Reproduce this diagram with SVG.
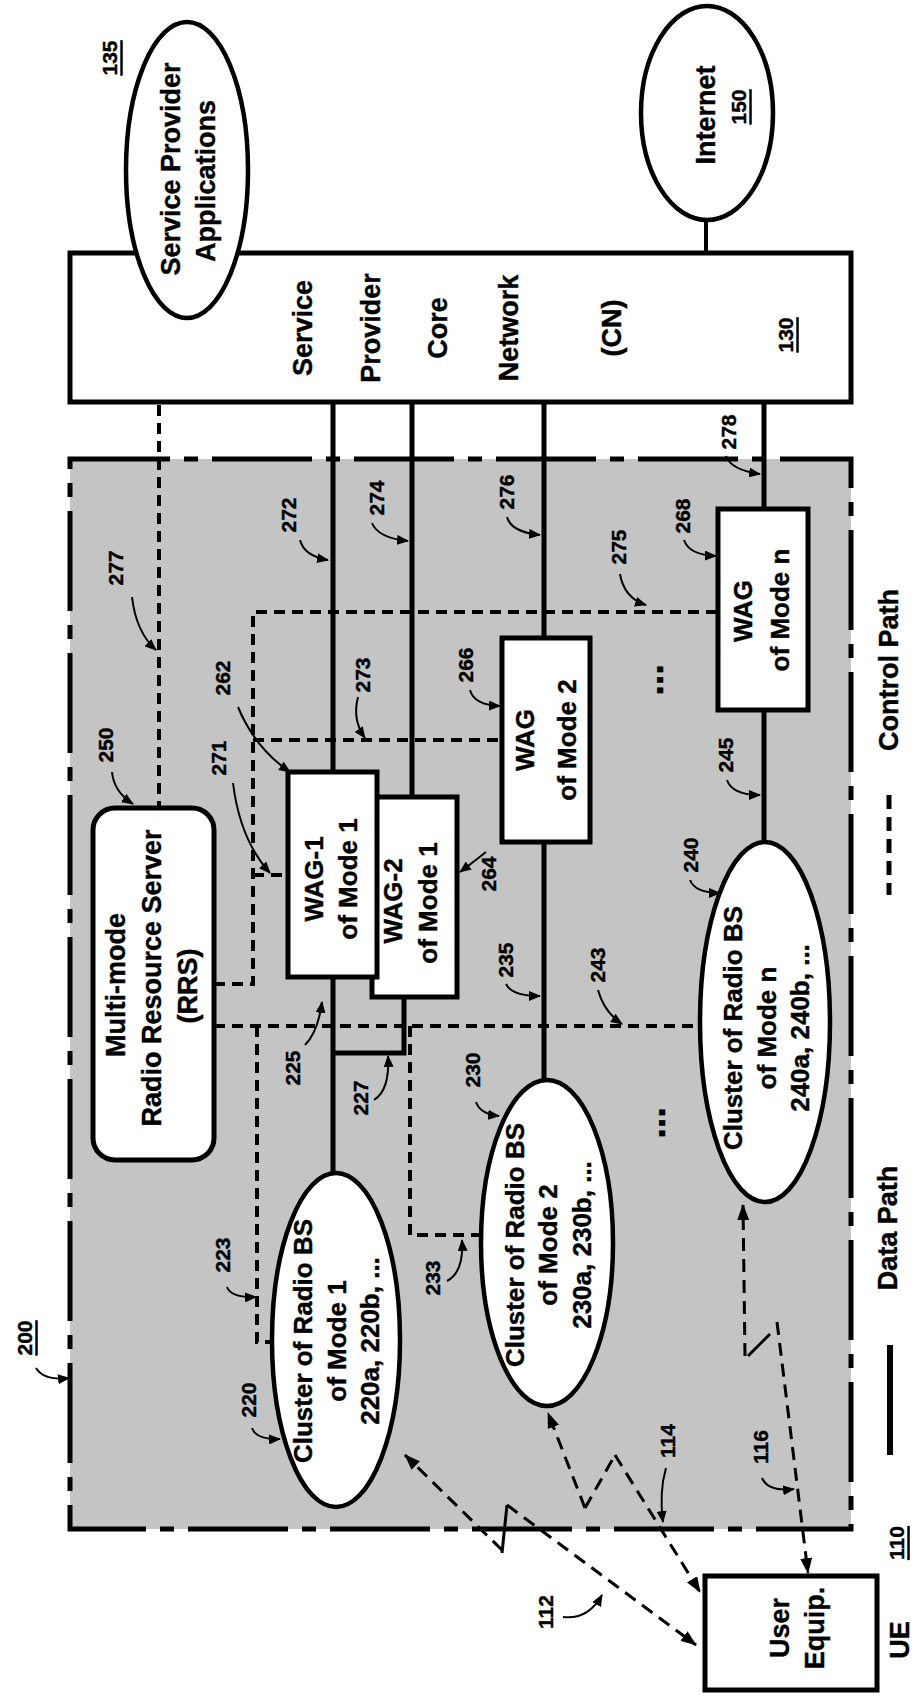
<svg xmlns="http://www.w3.org/2000/svg" width="922" height="1696" viewBox="0 0 922 1696">
<style>
.t{font-family:"Liberation Sans",Arial,Helvetica,sans-serif;font-weight:bold;font-size:27px;text-anchor:middle;dominant-baseline:central;fill:#000;stroke:#000;stroke-width:0.4}
.m{font-size:26px}
.n{font-size:21px}
.u{text-decoration:underline}
.box{fill:#fff;stroke:#000;stroke-width:5}
.ell{fill:#fff;stroke:#000;stroke-width:4.5}
.data{fill:none;stroke:#000;stroke-width:5}
.ctrl{fill:none;stroke:#000;stroke-width:4;stroke-dasharray:11 7}
.wl{fill:none;stroke:#000;stroke-width:3;stroke-dasharray:13 8}
.la{fill:none;stroke:#000;stroke-width:2;marker-end:url(#ah)}
</style>
<defs>
<marker id="ah" viewBox="0 0 12 10" refX="11" refY="5" markerWidth="12" markerHeight="10" markerUnits="userSpaceOnUse" orient="auto"><path d="M0,0 L12,5 L0,10 z" fill="#000"/></marker>
<marker id="wa" viewBox="0 0 16 12" refX="15" refY="6" markerWidth="16" markerHeight="12" markerUnits="userSpaceOnUse" orient="auto-start-reverse"><path d="M0,0 L16,6 L0,12 z" fill="#000"/></marker>
</defs>
<rect width="922" height="1696" fill="#fff"/>
<g id="region-200">
<rect x="70" y="459" width="781" height="1070" fill="#c4c4c4" stroke="#000" stroke-width="5" stroke-dasharray="100 14 14 14"/>
<text class="t n u" transform="translate(24,1338) rotate(-90)">200</text>
</g>
<g id="connectors">
<path class="data" d="M333,402 V772 M412,402 V797 M544,402 V638 M544,842 V1080 M764,402 V509 M764,710 V842 M333,977 V1173 M404,997 V1053 H333"/>
<path d="M706,220 V253" fill="none" stroke="#000" stroke-width="4"/>
<path class="ctrl" d="M159,405 V808"/>
<path class="ctrl" d="M214,984 H253 V612 H718 M253,740 H502 M253,875 H288"/>
<path class="ctrl" d="M214,1026 H701 M257,1026 V1342 H272 M410,1026 V1235 H481"/>
<polyline class="wl" points="502,1550 405,1455" marker-end="url(#wa)"/>
<polyline class="wl" points="507,1505 696,1645" marker-end="url(#wa)"/>
<path d="M502,1553 L507,1505" fill="none" stroke="#000" stroke-width="3"/>
<polyline class="wl" points="585,1508 548,1413" marker-end="url(#wa)"/>
<path d="M585,1508 L615,1455" fill="none" stroke="#000" stroke-width="3" stroke-dasharray="13 8"/>
<polyline class="wl" points="615,1455 700,1592" marker-end="url(#wa)"/>
<polyline class="wl" points="745,1356 743,1205" marker-end="url(#wa)"/>
<path d="M748,1356 L770,1334" fill="none" stroke="#000" stroke-width="3"/>
<polyline class="wl" points="777,1322 808,1573" marker-end="url(#wa)"/>
<path class="la" d="M132,597 Q136,632 156,650"/>
<path class="la" d="M112,772 Q114,792 133,804"/>
<path class="la" d="M238,707 Q255,748 290,772"/>
<path class="la" d="M233,783 Q240,840 270,873"/>
<path class="la" d="M300,540 Q304,556 328,560"/>
<path class="la" d="M372,523 Q378,538 408,541"/>
<path class="la" d="M507,517 Q511,532 540,535"/>
<path class="la" d="M726,456 Q731,470 760,474"/>
<path class="la" d="M684,540 Q689,555 716,556"/>
<path class="la" d="M620,574 Q624,598 646,605"/>
<path class="la" d="M470,690 Q474,705 500,706"/>
<path class="la" d="M358,697 Q352,720 365,738"/>
<path class="la" d="M727,780 Q732,795 760,795"/>
<path class="la" d="M690,880 Q695,893 720,893"/>
<path class="la" d="M486,852 Q476,860 460,872"/>
<path class="la" d="M305,1045 Q318,1032 322,1002"/>
<path class="la" d="M374,1100 Q390,1090 388,1056"/>
<path class="la" d="M506,984 Q512,996 540,996"/>
<path class="la" d="M598,990 Q604,1012 622,1024"/>
<path class="la" d="M476,1102 Q480,1114 499,1116"/>
<path class="la" d="M447,1281 Q464,1272 462,1240"/>
<path class="la" d="M227,1287 Q231,1298 256,1297"/>
<path class="la" d="M252,1428 Q256,1440 280,1439"/>
<path class="la" d="M36,1368 Q44,1381 69,1378"/>
<path class="la" d="M563,1617 Q588,1620 602,1595"/>
<path class="la" d="M666,1468 Q659,1492 663,1522"/>
<path class="la" d="M762,1478 Q768,1492 794,1489"/>
</g>
<g id="core-network">
<rect class="box" x="70" y="253" width="781" height="149"/>
<text class="t" transform="translate(303,328) rotate(-90)">Service</text>
<text class="t" transform="translate(371,328) rotate(-90)">Provider</text>
<text class="t" transform="translate(438,328) rotate(-90)">Core</text>
<text class="t" transform="translate(509,328) rotate(-90)">Network</text>
<text class="t" transform="translate(612,328) rotate(-90)">(CN)</text>
<text class="t n u" transform="translate(785,335) rotate(-90)">130</text>
</g>
<g id="service-provider-applications">
<ellipse class="ell" cx="187" cy="170" rx="61" ry="148"/>
<text class="t" transform="translate(171,169) rotate(-90)">Service Provider</text>
<text class="t" transform="translate(206,181) rotate(-90)">Applications</text>
<text class="t n u" transform="translate(109,58) rotate(-90)">135</text>
</g>
<g id="internet">
<ellipse class="ell" cx="707" cy="113" rx="66" ry="107"/>
<text class="t" transform="translate(706,115) rotate(-90)">Internet</text>
<text class="t n u" transform="translate(738,107) rotate(-90)">150</text>
</g>
<g id="rrs">
<rect class="box" x="93" y="808" width="121" height="352" rx="22"/>
<text class="t" transform="translate(116,985) rotate(-90)">Multi-mode</text>
<text class="t" transform="translate(152,978) rotate(-90)">Radio Resource Server</text>
<text class="t" transform="translate(188,986) rotate(-90)">(RRS)</text>
<text class="t n" transform="translate(105,745) rotate(-90)">250</text>
<text class="t n" transform="translate(115,568) rotate(-90)">277</text>
</g>
<g id="wag2-mode1">
<rect class="box" x="372" y="797" width="85" height="200"/>
<text class="t m" transform="translate(393,901) rotate(-90)">WAG-2</text>
<text class="t m" transform="translate(428,903) rotate(-90)">of Mode 1</text>
<text class="t n" transform="translate(488,874) rotate(-90)">264</text>
</g>
<g id="wag1-mode1">
<rect class="box" x="288" y="772" width="89" height="205"/>
<text class="t m" transform="translate(314,879) rotate(-90)">WAG-1</text>
<text class="t m" transform="translate(348,879) rotate(-90)">of Mode 1</text>
<text class="t n" transform="translate(222,678) rotate(-90)">262</text>
<text class="t n" transform="translate(218,758) rotate(-90)">271</text>
</g>
<g id="wag-mode2">
<rect class="box" x="502" y="638" width="88" height="204"/>
<text class="t m" transform="translate(525,740) rotate(-90)">WAG</text>
<text class="t m" transform="translate(567,740) rotate(-90)">of Mode 2</text>
<text class="t n" transform="translate(465,665) rotate(-90)">266</text>
</g>
<g id="wag-moden">
<rect class="box" x="718" y="509" width="90" height="201"/>
<text class="t m" transform="translate(743,611) rotate(-90)">WAG</text>
<text class="t m" transform="translate(780,610) rotate(-90)">of Mode n</text>
<text class="t n" transform="translate(682,516) rotate(-90)">268</text>
</g>
<g id="link-labels">
<text class="t n" transform="translate(288,515) rotate(-90)">272</text>
<text class="t n" transform="translate(376,498) rotate(-90)">274</text>
<text class="t n" transform="translate(506,492) rotate(-90)">276</text>
<text class="t n" transform="translate(728,432) rotate(-90)">278</text>
<text class="t n" transform="translate(618,547) rotate(-90)">275</text>
<text class="t n" transform="translate(362,675) rotate(-90)">273</text>
<text class="t n" transform="translate(725,755) rotate(-90)">245</text>
<text class="t n" transform="translate(292,1068) rotate(-90)">225</text>
<text class="t n" transform="translate(360,1098) rotate(-90)">227</text>
<text class="t n" transform="translate(505,960) rotate(-90)">235</text>
<text class="t n" transform="translate(597,965) rotate(-90)">243</text>
<text class="t n" transform="translate(432,1278) rotate(-90)">233</text>
<text class="t n" transform="translate(222,1255) rotate(-90)">223</text>
<text class="t n" transform="translate(545,1612) rotate(-90)">112</text>
<text class="t n" transform="translate(667,1441) rotate(-90)">114</text>
<text class="t n" transform="translate(760,1447) rotate(-90)">116</text>
<text class="t" style="font-size:38px" transform="translate(650,680) rotate(-90)">...</text>
<text class="t" style="font-size:38px" transform="translate(652,1123) rotate(-90)">...</text>
</g>
<g id="cluster-mode1">
<ellipse class="ell" cx="336" cy="1340" rx="64" ry="167"/>
<text class="t m" transform="translate(303,1341) rotate(-90)">Cluster of Radio BS</text>
<text class="t m" transform="translate(337,1341) rotate(-90)">of Mode 1</text>
<text class="t m" transform="translate(370,1341) rotate(-90)">220a, 220b, ...</text>
<text class="t n" transform="translate(248,1400) rotate(-90)">220</text>
</g>
<g id="cluster-mode2">
<ellipse class="ell" cx="547" cy="1243" rx="66" ry="163"/>
<text class="t m" transform="translate(515,1245) rotate(-90)">Cluster of Radio BS</text>
<text class="t m" transform="translate(548,1245) rotate(-90)">of Mode 2</text>
<text class="t m" transform="translate(582,1245) rotate(-90)">230a, 230b, ...</text>
<text class="t n" transform="translate(472,1070) rotate(-90)">230</text>
</g>
<g id="cluster-moden">
<ellipse class="ell" cx="765" cy="1022" rx="65" ry="180"/>
<text class="t m" transform="translate(733,1028) rotate(-90)">Cluster of Radio BS</text>
<text class="t m" transform="translate(767,1028) rotate(-90)">of Mode n</text>
<text class="t m" transform="translate(800,1028) rotate(-90)">240a, 240b, ...</text>
<text class="t n" transform="translate(690,855) rotate(-90)">240</text>
</g>
<g id="ue">
<rect class="box" x="705" y="1576" width="172" height="114"/>
<text class="t" transform="translate(780,1628) rotate(-90)">User</text>
<text class="t" transform="translate(815,1628) rotate(-90)">Equip.</text>
<text class="t n u" transform="translate(896,1543) rotate(-90)">110</text>
<text class="t" transform="translate(900,1640) rotate(-90)">UE</text>
</g>
<g id="legend">
<path d="M889,795 V895" fill="none" stroke="#000" stroke-width="5" stroke-dasharray="14 8"/>
<text class="t" transform="translate(889,670) rotate(-90)">Control Path</text>
<path d="M890,1345 V1455" fill="none" stroke="#000" stroke-width="6"/>
<text class="t" transform="translate(888,1228) rotate(-90)">Data Path</text>
</g>
</svg>
